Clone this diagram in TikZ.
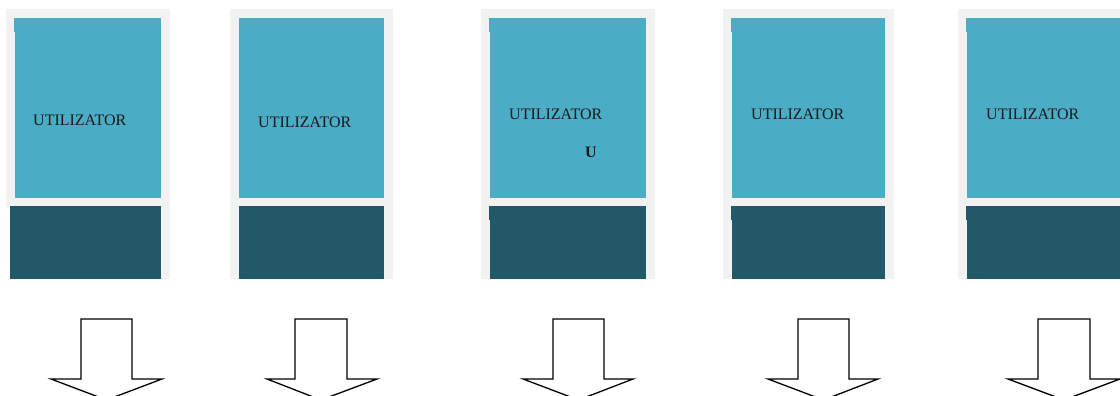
\documentclass[tikz,border=0pt]{standalone}
\usepackage{fontspec}
\setmainfont{Liberation Serif}
\definecolor{lightblue}{HTML}{4BACC6}
\definecolor{darkteal}{HTML}{215968}
\definecolor{panelgray}{HTML}{F2F2F2}
\begin{document}
\begin{tikzpicture}[x=1pt,y=-1pt,
  panelbg/.style={fill=panelgray,draw=none},
  topbox/.style={fill=lightblue,draw=none},
  botbox/.style={fill=darkteal,draw=none},
  lbl/.style={font=\fontsize{16}{16}\selectfont,text=black!90,inner sep=0pt,anchor=west},
  fatarrow/.style={draw=black,fill=white,line width=1.3pt,line join=miter}]
\useasboundingbox (0,0) rectangle (1120,396);
\begin{scope}
\clip (0,0) rectangle (1120,396);
% panel 1
\fill[panelgray] (6,9) -- (170,9) -- (170,279) -- (10,279) -- (10,207) -- (6,207) -- cycle;
\fill[lightblue] (15,18) rectangle (161,198);
\fill[lightblue] (14,18) rectangle (16,32);
\fill[darkteal] (10,206) rectangle (161,279);
\node[lbl] (u1) at (33,120) {UTILIZATOR};
% panel 2
\fill[panelbg] (230,9) rectangle (393,279);
\fill[topbox] (239,18) rectangle (384,198);
\fill[botbox] (239,206) rectangle (384,279);
\node[lbl] (u2) at (258,122) {UTILIZATOR};
% panel 3
\fill[panelbg] (481,9) rectangle (655,279);
\fill[topbox] (490,18) rectangle (646,198);
\fill[topbox] (489,18) rectangle (491,32);
\fill[botbox] (490,206) rectangle (646,279);
\fill[botbox] (489,206) rectangle (491,220);
\node[lbl] (u3) at (509,114) {UTILIZATOR};
\node[lbl,font=\fontsize{16}{16}\selectfont\bfseries] (u3b) at (585,152) {U};
% panel 4
\fill[panelbg] (723,9) rectangle (894,279);
\fill[topbox] (732,18) rectangle (885,198);
\fill[topbox] (731,18) rectangle (733,32);
\fill[botbox] (732,206) rectangle (885,279);
\fill[botbox] (731,206) rectangle (733,220);
\node[lbl] (u4) at (751,114) {UTILIZATOR};
% panel 5
\fill[panelbg] (958,9) rectangle (1125,279);
\fill[topbox] (967,18) rectangle (1125,198);
\fill[topbox] (966,18) rectangle (968,32);
\fill[botbox] (967,206) rectangle (1125,279);
\fill[botbox] (966,206) rectangle (968,220);
\node[lbl] (u5) at (986,114) {UTILIZATOR};
% arrows
\foreach \sl/\sr/\wl/\wr in {81/132/51/162, 295/347/267/377, 553/604/523/633, 798/849/768/878, 1038/1090/1008/1120}{
  \draw[fatarrow] (\sl,319) -- (\sr,319) -- (\sr,379) -- (\wr,379) -- ({(\sl+\sr)/2},400) -- (\wl,379) -- (\sl,379) -- cycle;
}
\end{scope}
\end{tikzpicture}
\end{document}
